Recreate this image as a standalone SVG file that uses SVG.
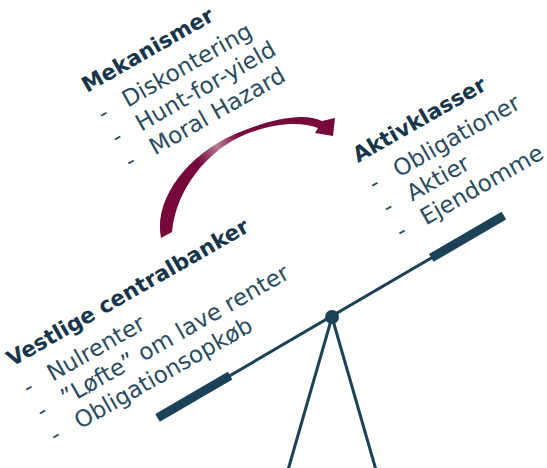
<svg xmlns="http://www.w3.org/2000/svg" width="547" height="468" viewBox="0 0 547 468">
  <defs>
    <style>
      .h { font-family: "DejaVu Sans", "Liberation Sans", sans-serif; font-weight: bold; font-size: 21.5px; fill: #17364b; }
      .t { font-family: "DejaVu Sans", "Liberation Sans", sans-serif; font-size: 23px; fill: #2a4b60; }
      .beam { stroke: #1b4257; fill: none; stroke-width: 3; }
      .bar { fill: #1b4257; }
    </style>
    <linearGradient id="arcGrad" gradientUnits="userSpaceOnUse" x1="160" y1="238" x2="335" y2="120">
      <stop offset="0" stop-color="#76083a"/>
      <stop offset="0.35" stop-color="#76083a"/>
      <stop offset="0.47" stop-color="#b77a95"/>
      <stop offset="0.58" stop-color="#76083a"/>
      <stop offset="1" stop-color="#76083a"/>
    </linearGradient>
  </defs>
  <rect width="547" height="468" fill="#ffffff"/>

  <g id="connectors">
    <path d="M161,238 C153,198 190,150 245,130 C276,118 305,113 322,121 L335,118 L333,136 L315,133 L318,128 C300,121 275,123 246,134 C206,151 176,190 172,232 Z" fill="url(#arcGrad)"/>
  </g>

  <g id="mekanismer" transform="translate(87,93) rotate(-29.7)">
    <text class="h" x="0" y="0">Mekanismer</text>
    <text class="t" x="0" y="33">-</text>
    <text class="t" x="28" y="33">Diskontering</text>
    <text class="t" x="0" y="60.5">-</text>
    <text class="t" x="28" y="60.5">Hunt-for-yield</text>
    <text class="t" x="0" y="88">-</text>
    <text class="t" x="28" y="88">Moral Hazard</text>
  </g>

  <g id="aktivklasser" transform="translate(358,163) rotate(-29.7)">
    <text class="h" x="0" y="0">Aktivklasser</text>
    <text class="t" x="0" y="33">-</text>
    <text class="t" x="28" y="33">Obligationer</text>
    <text class="t" x="0" y="60.5">-</text>
    <text class="t" x="28" y="60.5">Aktier</text>
    <text class="t" x="0" y="88">-</text>
    <text class="t" x="28" y="88">Ejendomme</text>
  </g>

  <g id="vestlige" transform="translate(12,367) rotate(-29.7)">
    <text class="h" x="0" y="0">Vestlige centralbanker</text>
    <text class="t" x="0" y="33">-</text>
    <text class="t" x="28" y="33">Nulrenter</text>
    <text class="t" x="0" y="60.5">-</text>
    <text class="t" x="28" y="60.5">”Løfte” om lave renter</text>
    <text class="t" x="0" y="88">-</text>
    <text class="t" x="28" y="88">Obligationsopkøb</text>
  </g>

  <g id="scale">
    <line class="beam" x1="332" y1="317" x2="288" y2="470"/>
    <line class="beam" x1="332" y1="317" x2="376" y2="470"/>
    <g transform="translate(332,316) rotate(-30.3)">
      <line class="beam" x1="-202" y1="0" x2="199" y2="0"/>
      <rect class="bar" x="-202" y="-4.5" width="84" height="9"/>
      <rect class="bar" x="115" y="-4.5" width="84" height="9"/>
    </g>
    <circle cx="332" cy="317" r="7" fill="#1b4257"/>
  </g>
</svg>
